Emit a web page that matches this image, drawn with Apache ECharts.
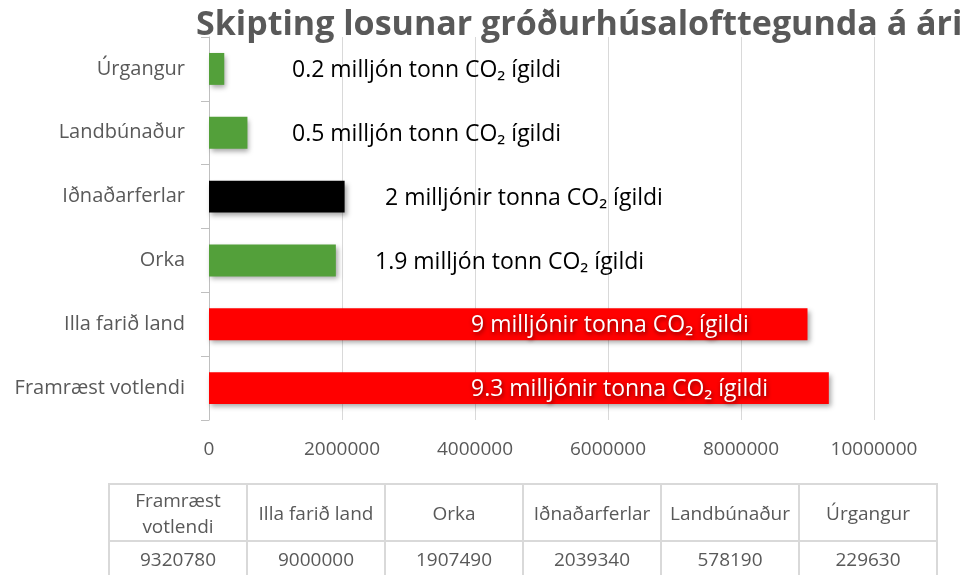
<!DOCTYPE html>
<html>
<head>
<meta charset="utf-8">
<script src="https://cdn.jsdelivr.net/npm/echarts@6/dist/echarts.min.js"></script>
<style>
  html, body { margin: 0; padding: 0; background: #fff; }
  #chart { position: absolute; left: 0; top: 0; width: 973px; height: 575px; }
  #tbl { position: absolute; left: 108px; top: 483px; border-collapse: collapse;
         font-family: "Open Sans", sans-serif; color: #595959; font-size: 19px; }
  #tbl td { border: 2px solid #d9d9d9; text-align: center; width: 136px; padding: 0; line-height: 26px; white-space: nowrap; }
  #tbl tr.h td { height: 55px; }
  #tbl tr.v td { height: 34px; }
</style>
</head>
<body>
<div id="chart"></div>
<table id="tbl"></table>
<script>
const categories = ["Framræst votlendi", "Illa farið land", "Orka", "Iðnaðarferlar", "Landbúnaður", "Úrgangur"];
const values = [9320780, 9000000, 1907490, 2039340, 578190, 229630];
const annotations = [
  "9.3 milljónir tonna CO₂ ígildi",
  "9 milljónir tonna CO₂ ígildi",
  "1.9 milljón tonn CO₂ ígildi",
  "2 milljónir tonna CO₂ ígildi",
  "0.5 milljón tonn CO₂ ígildi",
  "0.2 milljón tonn CO₂ ígildi"
];
const tableHeaders = ["Framræst<br>votlendi", "Illa farið land", "Orka", "Iðnaðarferlar", "Landbúnaður", "Úrgangur"];
const xTicks = [0, 2000000, 4000000, 6000000, 8000000, 10000000];
const title = "Skipting losunar gróðurhúsalofttegunda á ári";

// styles
const barColors = ["#ff0000", "#ff0000", "#53a03a", "#000000", "#53a03a", "#53a03a"];
const labelColors = ["#ffffff", "#ffffff", "#000000", "#000000", "#000000", "#000000"];
const labelOffsets = [262, 262, 166, 176, 83, 83];

const chart = echarts.init(document.getElementById('chart'));
chart.setOption({
  animation: false,
  title: {
    text: title, left: 191, top: 3,
    textStyle: { fontFamily: "Open Sans", fontWeight: "bold", fontSize: 34, color: "#595959" }
  },
  grid: { left: 209, right: 99, top: 37, bottom: 155 },
  xAxis: {
    type: 'value', min: xTicks[0], max: xTicks[xTicks.length - 1], interval: xTicks[1] - xTicks[0],
    axisLine: { show: false }, axisTick: { show: false },
    splitLine: { lineStyle: { color: '#d9d9d9', width: 1 } },
    axisLabel: { color: '#595959', fontFamily: "Open Sans", fontSize: 19, margin: 20, formatter: v => String(v) }
  },
  yAxis: {
    type: 'category', data: categories,
    axisLine: { lineStyle: { color: '#bfbfbf' } },
    axisTick: { show: true, length: 8, lineStyle: { color: '#bfbfbf' } },
    axisLabel: { color: '#595959', fontFamily: "Open Sans", fontSize: 20, margin: 24 }
  },
  series: [{
    type: 'bar', barWidth: '50%',
    data: values.map((v, i) => ({
      value: v,
      itemStyle: { color: barColors[i], shadowColor: 'rgba(0,0,0,0.35)', shadowBlur: 5, shadowOffsetX: 2, shadowOffsetY: 3 },
      label: {
        show: true, formatter: annotations[i], position: [labelOffsets[i], '55%'],
        align: 'left', verticalAlign: 'middle', color: labelColors[i],
        fontFamily: "Open Sans", fontSize: 23,
        textShadowColor: labelColors[i] === '#ffffff' ? 'rgba(80,0,0,0.8)' : 'transparent',
        textShadowBlur: 4, textShadowOffsetX: 1, textShadowOffsetY: 2
      }
    }))
  }]
});

const tbl = document.getElementById('tbl');
let h = '<tr class="h">' + tableHeaders.map(t => '<td>' + t + '</td>').join('') + '</tr>';
h += '<tr class="v">' + values.map(v => '<td>' + v + '</td>').join('') + '</tr>';
tbl.innerHTML = h;
</script>
</body>
</html>
